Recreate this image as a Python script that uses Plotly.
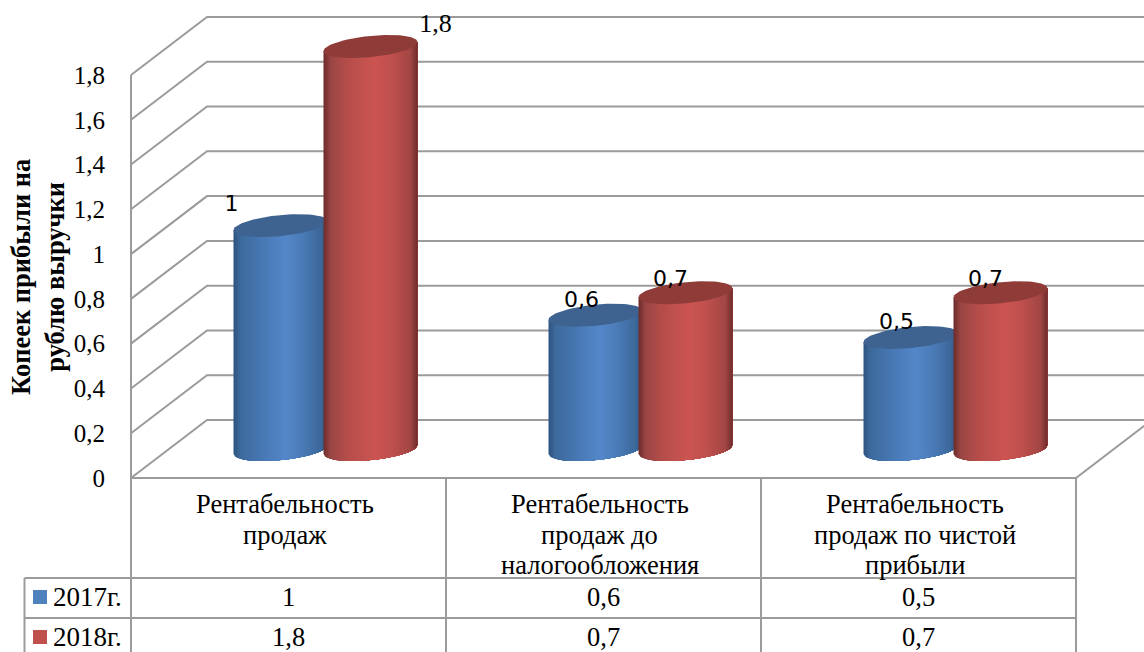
import numpy as np
import plotly.graph_objects as go

# Chart data
categories = [
    "Рентабельность<br>продаж",
    "Рентабельность<br>продаж до<br>налогообложения",
    "Рентабельность<br>продаж по чистой<br>прибыли",
]
series_names = ["2017г.", "2018г."]
values_2017 = [1.0, 0.6, 0.5]
values_2018 = [1.8, 0.7, 0.7]
tick_values = [0, 0.2, 0.4, 0.6, 0.8, 1.0, 1.2, 1.4, 1.6, 1.8]
tick_labels = ["0", "0,2", "0,4", "0,6", "0,8", "1", "1,2", "1,4", "1,6", "1,8"]

# Canvas and axis scales
W, H = 1144, 652
CAT_PX = 315.0      # pixels per category on the x axis
UNIT_PX = 223.9     # pixels per unit of value on the y axis
ORIGIN_X, ORIGIN_Y = 131.0, 478.0


def dx(px):
    return px / CAT_PX


def dy(px):
    return px / UNIT_PX


def ax_x(px):
    return (px - ORIGIN_X) / CAT_PX


def ax_y(px):
    return (ORIGIN_Y - px) / UNIT_PX


# 3D box projection
DEPTH_X = dx(76)
DEPTH_Y = dy(58)
# Cylinder geometry
BASE_Y = dy(28.5)
HALF_W = dx(47)
TILT = dy(4.5)
MINOR = dy(10.6)
CENTER_2017 = dx(149.5)
CENTER_2018 = dx(239.5)
N_STRIPS = 48

GRID = "#9b9b9b"
TEXT_FONT = "Liberation Serif"
TABLE_SIZE = 26.5

SHADE_STOPS = [-1.0, -0.85, -0.5, 0.1, 0.5, 0.85, 1.0]
BLUE_SHADES = ["#2d5380", "#3d6a9c", "#4675ae", "#5487ca", "#4a7ab5", "#3c689a", "#2f5683"]
RED_SHADES = ["#6b2b2a", "#994644", "#b54d4a", "#cc5552", "#bc4f4c", "#a24644", "#6f2d2c"]
BLUE_TOP, RED_TOP = "#3e6391", "#8f3b38"
BLUE_KEY, RED_KEY = "#4f81bd", "#c0504d"

# Label offsets from the top of each cylinder, in pixels
LABEL_OFFSET_2017 = [(-49, 20), (-14, 14), (-14, 14)]
LABEL_OFFSET_2018 = [(65, 21), (-15, 12), (-15, 12)]


def hex_rgb(c):
    return np.array([int(c[i:i + 2], 16) for i in (1, 3, 5)], dtype=float)


def shade(u, colors):
    rgb = [np.interp(u, SHADE_STOPS, [hex_rgb(c)[k] for c in colors]) for k in range(3)]
    return "rgb({:.0f},{:.0f},{:.0f})".format(*rgb)


fig = go.Figure()


def line(xs, ys, width=2, color=GRID):
    fig.add_trace(go.Scatter(x=xs, y=ys, mode="lines", line=dict(color=color, width=width),
                             hoverinfo="skip", showlegend=False))


# Walls: back gridlines, their diagonals and the left edge
x_end = ax_x(W + 5)
for v in tick_values:
    line([0, DEPTH_X, x_end], [v, v + DEPTH_Y, v + DEPTH_Y])
line([0, 0], [tick_values[0], tick_values[-1]])

# Floor front edge and right diagonal
n_cat = len(categories)
line([0, n_cat, n_cat + DEPTH_X], [0, 0, DEPTH_Y])

# Table under the plot
row1, row2, row3 = ax_y(578), ax_y(618), ax_y(660)
left = ax_x(24.5)
for i in range(n_cat + 1):
    line([i, i], [0, row3])
line([left, left], [row1, row3])
line([left, n_cat], [row1, row1])
line([left, n_cat], [row2, row2])


def cylinder(cx, value, colors, top_color):
    """Each strip paints from its left edge to the far side, so later strips
    overlap earlier ones and no seams show; an ellipse closes the top."""
    us = np.linspace(-1, 1, N_STRIPS + 1)
    base = BASE_Y
    top = BASE_Y + value
    xs = cx + HALF_W * us
    lower = base + TILT * us - MINOR * np.sqrt(np.clip(1 - us ** 2, 0, 1))
    upper = top + TILT * us
    for k in range(N_STRIPS):
        col = shade((us[k] + us[k + 1]) / 2, colors)
        fig.add_trace(go.Scatter(
            x=np.r_[xs[k:], xs[k:][::-1], xs[k]], y=np.r_[lower[k:], upper[k:][::-1], lower[k]],
            mode="lines", fill="toself", fillcolor=col,
            line=dict(width=0), hoverinfo="skip", showlegend=False))
    t = np.linspace(0, 2 * np.pi, 90)
    fig.add_trace(go.Scatter(
        x=cx + HALF_W * np.cos(t), y=top + TILT * np.cos(t) + MINOR * np.sin(t),
        mode="lines", fill="toself", fillcolor=top_color,
        line=dict(width=0), hoverinfo="skip", showlegend=False))


for i in range(n_cat):
    cylinder(i + CENTER_2017, values_2017[i], BLUE_SHADES, BLUE_TOP)
    cylinder(i + CENTER_2018, values_2018[i], RED_SHADES, RED_TOP)


def value_text(v):
    return f"{v:g}".replace(".", ",")


# Data labels above the cylinders
for vals, center, offs in ((values_2017, CENTER_2017, LABEL_OFFSET_2017),
                           (values_2018, CENTER_2018, LABEL_OFFSET_2018)):
    for i in range(n_cat):
        serif = vals[i] == max(values_2018)
        fig.add_trace(go.Scatter(
            x=[i + center + dx(offs[i][0])], y=[BASE_Y + vals[i] + dy(offs[i][1])],
            mode="text", text=[value_text(vals[i])], textposition="middle center",
            textfont=dict(family=TEXT_FONT if serif else "DejaVu Sans",
                          size=26 if serif else 22, color="#000000"),
            hoverinfo="skip", showlegend=False))

# Legend keys in the table
key_y = [ax_y(597), ax_y(637)]
for y, col in zip(key_y, (BLUE_KEY, RED_KEY)):
    fig.add_trace(go.Scatter(x=[ax_x(40)], y=[y], mode="markers",
                             marker=dict(symbol="square", size=14, color=col),
                             hoverinfo="skip", showlegend=False))

annotations = []


def note(x, y, text, xanchor="center", yanchor="middle", size=TABLE_SIZE, **kw):
    annotations.append(dict(x=x, y=y, xref="x", yref="y", text=text, showarrow=False,
                            xanchor=xanchor, yanchor=yanchor,
                            font=dict(family=TEXT_FONT, size=size, color="#000000"), **kw))


# Category headers, one annotation per line for tight leading, and table values
for i, c in enumerate(categories):
    for j, part in enumerate(c.split("<br>")):
        note(i + 0.5 + dx(-4), ax_y(504 + 30.5 * j), part)
    note(i + 0.5, key_y[0], value_text(values_2017[i]))
    note(i + 0.5, key_y[1], value_text(values_2018[i]))
for y, name in zip(key_y, series_names):
    note(ax_x(51), y, name, xanchor="left", size=27)

# Value axis title
note(ax_x(38), ax_y(277), "<b>Копеек прибыли на<br>рублю выручки</b>", textangle=-90, size=26.5)

fig.update_layout(
    width=W, height=H,
    margin=dict(l=0, r=0, t=0, b=0),
    paper_bgcolor="#ffffff", plot_bgcolor="#ffffff",
    showlegend=False,
    annotations=annotations,
    xaxis=dict(range=[ax_x(0), ax_x(W)], visible=False, domain=[0, 1], fixedrange=True),
    yaxis=dict(range=[ax_y(H), ax_y(0)], anchor="free", position=ORIGIN_X / W,
               tickmode="array", tickvals=tick_values, ticktext=tick_labels,
               showgrid=False, zeroline=False, showline=False,
               ticks="outside", ticklen=21, tickcolor="rgba(0,0,0,0)",
               tickfont=dict(family=TEXT_FONT, size=25, color="#000000"), fixedrange=True),
)

fig.write_html("out.html", config=dict(displayModeBar=False))
